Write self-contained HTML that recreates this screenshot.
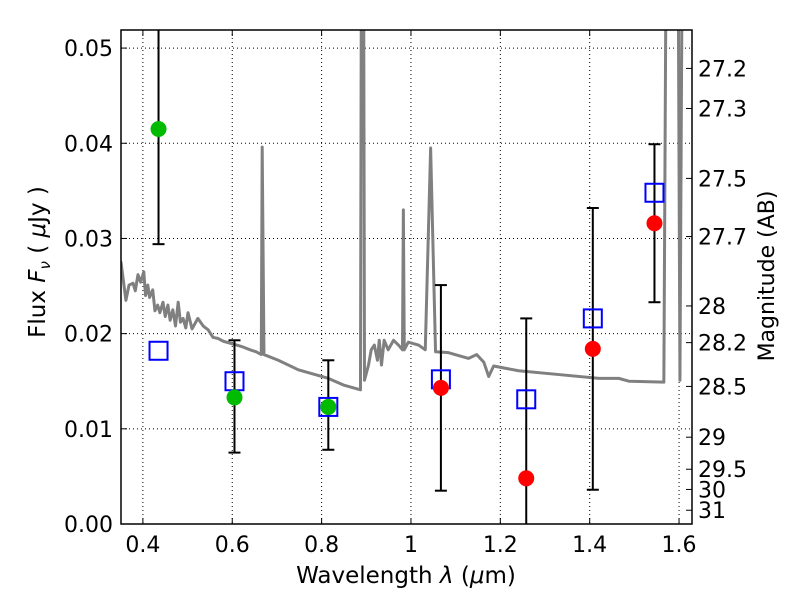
<!DOCTYPE html>
<html><head><meta charset="utf-8"><style>
body{margin:0;background:#fff;}
svg text{font-family:"DejaVu Sans","Liberation Sans",sans-serif;fill:#000;}
</style></head><body>
<svg id="chart" width="800" height="600"></svg>
<script>
const xTicks=[0.4,0.6,0.8,1.0,1.2,1.4,1.6];
const xTickLabels=["0.4","0.6","0.8","1","1.2","1.4","1.6"];
const yTicks=[0,0.01,0.02,0.03,0.04,0.05];
const yTickLabels=["0.00","0.01","0.02","0.03","0.04","0.05"];
const magTicks=[27.2,27.3,27.5,27.7,28,28.2,28.5,29,29.5,30,31];
const specWave=[0.344,0.351,0.362,0.369,0.378,0.383,0.389,0.395,0.402,0.406,0.411,0.415,0.422,0.427,0.433,0.438,0.445,0.450,0.456,0.461,0.467,0.473,0.479,0.484,0.490,0.496,0.501,0.510,0.523,0.535,0.546,0.557,0.568,0.580,0.595,0.610,0.624,0.640,0.653,0.665,0.667,0.671,0.703,0.748,0.815,0.849,0.887,0.889,0.894,0.896,0.905,0.911,0.918,0.925,0.929,0.934,0.940,0.949,0.961,0.972,0.981,0.983,0.985,0.994,1.017,1.032,1.044,1.055,1.084,1.129,1.147,1.163,1.174,1.185,1.241,1.331,1.421,1.465,1.488,1.566,1.571,1.598,1.602,1.607,1.62];
const specFlux=[0.0279,0.0275,0.0235,0.0251,0.0253,0.0245,0.0262,0.0254,0.0265,0.0240,0.0251,0.0238,0.0246,0.0224,0.0230,0.0222,0.0233,0.0218,0.0230,0.0214,0.0225,0.0208,0.0233,0.0212,0.0216,0.0206,0.0222,0.0205,0.0216,0.0208,0.0204,0.0196,0.0195,0.0192,0.0190,0.0188,0.0186,0.0183,0.0181,0.0178,0.0396,0.0178,0.0172,0.0162,0.0153,0.0146,0.0141,0.06,0.06,0.0151,0.0167,0.0183,0.0188,0.0172,0.0193,0.0167,0.0193,0.0183,0.0193,0.0188,0.0183,0.0330,0.0183,0.0191,0.0188,0.0183,0.0395,0.0181,0.0180,0.0174,0.0178,0.0170,0.0155,0.0166,0.0161,0.0157,0.0153,0.0153,0.0150,0.0149,0.06,0.06,0.0151,0.06,0.06];
const bandWave=[0.435,0.605,0.815,1.067,1.258,1.407,1.545];
const obsFlux=[0.0415,0.0133,0.0123,0.0143,0.0048,0.0184,0.0316];
const obsColor=["#00bb00","#00bb00","#00bb00","red","red","red","red"];
const errLow=[0.0294,0.0075,0.0078,0.0035,-0.002,0.0036,0.0233];
const errHigh=[0.06,0.0193,0.0172,0.0251,0.0216,0.0332,0.0399];
const modelFlux=[0.0182,0.0150,0.0123,0.0152,0.0131,0.0216,0.0348];

const NS="http://www.w3.org/2000/svg";
const svg=document.getElementById('chart');
const L=121,R=692,T=30,B=524,X0=0.3510,X1=1.6290,Y0=0,Y1=0.0519;
const sx=v=>L+(v-X0)/(X1-X0)*(R-L);
const sy=v=>B-(v-Y0)/(Y1-Y0)*(B-T);
function mk(tag,attrs,parent){const e=document.createElementNS(NS,tag);for(const k in attrs)e.setAttribute(k,attrs[k]);(parent||svg).appendChild(e);return e;}
const defs=mk('defs',{});const cp=mk('clipPath',{id:'clip'},defs);mk('rect',{x:L,y:T,width:R-L,height:B-T},cp);
const grid=mk('g',{});


xTicks.forEach((v,i)=>{
  const l=mk('line',{x1:sx(v),x2:sx(v),y1:T,y2:B,stroke:'#000','stroke-dasharray':'1,3','stroke-width':1},grid);
  
  
  mk('line',{x1:sx(v),x2:sx(v),y1:B,y2:B-6,stroke:'#000'});
  mk('line',{x1:sx(v),x2:sx(v),y1:T,y2:T+6,stroke:'#000'});
  const t=mk('text',{x:sx(v),y:B+28,'font-size':22,'text-anchor':'middle'});t.textContent=xTickLabels[i];
  
  
});
yTicks.forEach((v,i)=>{
  const l=mk('line',{x1:L,x2:R,y1:sy(v),y2:sy(v),stroke:'#000','stroke-dasharray':'1,3','stroke-width':1},grid);
  
  
  mk('line',{x1:L,x2:L+6,y1:sy(v),y2:sy(v),stroke:'#000'});
  const t=mk('text',{x:L-8,y:sy(v)+8,'font-size':22,'text-anchor':'end'});t.textContent=yTickLabels[i];
  
  
});
magTicks.forEach(m=>{
  const f=Math.pow(10,(23.9-m)/2.5);
  mk('line',{x1:R,x2:R-6,y1:sy(f),y2:sy(f),stroke:'#000'});
  const t=mk('text',{x:R+6,y:sy(f)+8,'font-size':22});t.textContent=String(m);
  
  
});
const plot=mk('g',{'clip-path':'url(#clip)'});
const spec=mk('polyline',{points:specWave.map((w,i)=>sx(w)+','+sy(specFlux[i])).join(' '),fill:'none',stroke:'#808080','stroke-width':3,'stroke-linejoin':'round'},plot);


bandWave.forEach((w,i)=>{
  const g=mk('g',{},plot);
  
  
  mk('line',{x1:sx(w),x2:sx(w),y1:sy(errLow[i]),y2:sy(errHigh[i]),stroke:'#000','stroke-width':2},g);
  mk('line',{x1:sx(w)-6,x2:sx(w)+6,y1:sy(errLow[i]),y2:sy(errLow[i]),stroke:'#000','stroke-width':2},g);
  mk('line',{x1:sx(w)-6,x2:sx(w)+6,y1:sy(errHigh[i]),y2:sy(errHigh[i]),stroke:'#000','stroke-width':2},g);
});
bandWave.forEach((w,i)=>{
  const r=mk('rect',{x:sx(w)-9,y:sy(modelFlux[i])-9,width:18,height:18,fill:'none',stroke:'#0000ff','stroke-width':2},plot);
  
  
});
bandWave.forEach((w,i)=>{
  const c=mk('circle',{cx:sx(w),cy:sy(obsFlux[i]),r:8,fill:obsColor[i]},plot);
  
  
});
const frame=mk('rect',{x:L,y:T,width:R-L,height:B-T,fill:'none',stroke:'#000','stroke-width':1.5});


const xl=mk('text',{x:406,y:583,'font-size':23,'text-anchor':'middle'});
xl.innerHTML='Wavelength  <tspan font-style="italic">λ</tspan> (<tspan font-style="italic">μ</tspan>m)';


const yl=mk('text',{x:0,y:0,'font-size':23,'text-anchor':'middle',transform:'translate(45,262) rotate(-90)'});
yl.innerHTML='Flux  <tspan font-style="italic">F</tspan><tspan font-style="italic" font-size="15" dy="5">ν</tspan><tspan dy="-5">  (  </tspan><tspan font-style="italic">μ</tspan>Jy )';


const ml=mk('text',{x:0,y:0,'font-size':22,'text-anchor':'middle',transform:'translate(774,276) rotate(-90)'});
ml.textContent='Magnitude (AB)';


</script>
</body></html>
